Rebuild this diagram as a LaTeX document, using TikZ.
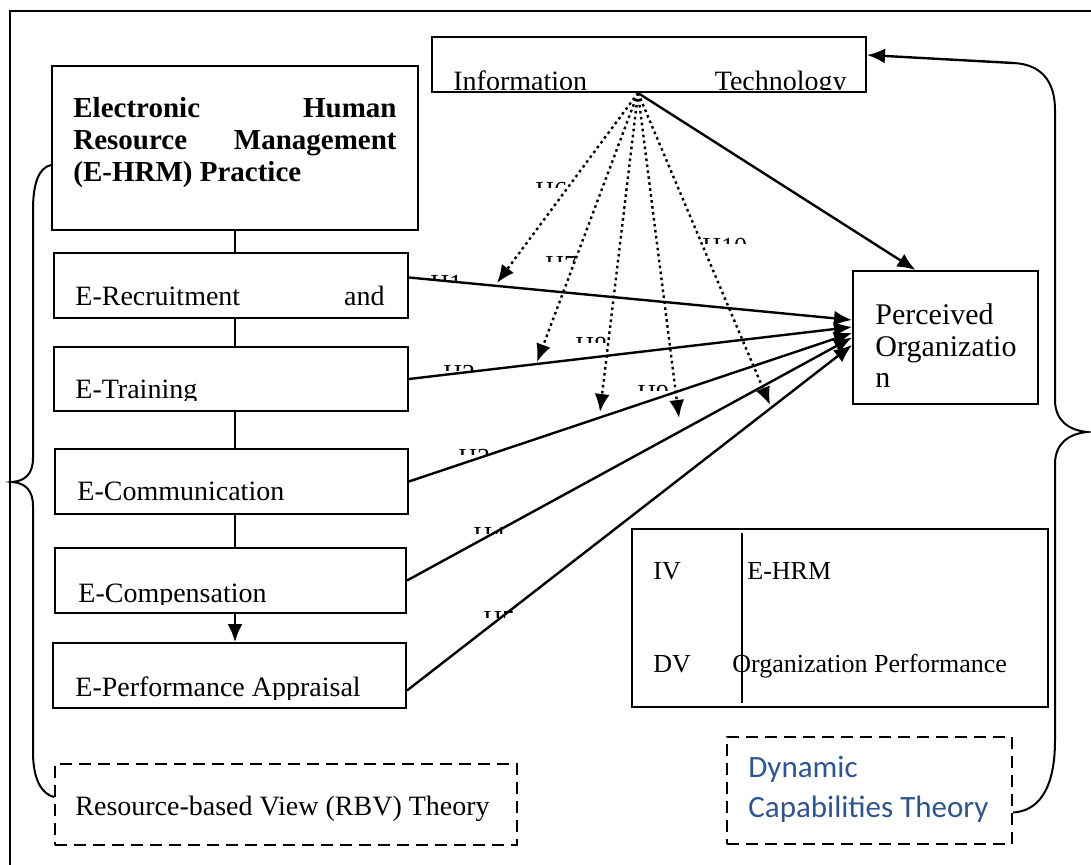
\documentclass[tikz,border=0pt]{standalone}
\usepackage{fontspec}
\setmainfont{Liberation Serif}
\newfontfamily\dctfont{Carlito}
\usetikzlibrary{arrows.meta}

\definecolor{dctblue}{RGB}{47,85,140}

% text cut off by the frame it sits in
\newcommand{\cuttext}[4]{\begin{scope}\clip #1 rectangle #2; \node[#3] #4;\end{scope}}
% hypothesis label, only its top shows
\newcommand{\hyplabel}[4]{\begin{scope}\clip (#2,#3-2) rectangle ++(52,8); \node[hyp, anchor=north west] (#1) at (#2,#3) {#4};\end{scope}}

\begin{document}
\begin{tikzpicture}[x=0.5pt, y=-0.5pt,
    box/.style={rectangle, draw, line width=1pt, inner sep=0pt},
    dashbox/.style={box, dash pattern=on 6pt off 3.5pt},
    txt/.style={inner sep=0pt, font=\fontsize{14}{16}\selectfont},
    small/.style={inner sep=0pt, font=\fontsize{13}{15}\selectfont},
    hyp/.style={inner sep=0pt, font=\fontsize{13}{15}\selectfont},
    head/.style={inner sep=0pt, font=\bfseries\fontsize{14.5}{16}\selectfont},
    link/.style={line width=1pt},
    arrow/.style={-{Latex[length=9pt,width=7.5pt]}, line width=1.2pt},
    dotarrow/.style={arrow, dash pattern=on 1.3pt off 1.7pt}
]
    \useasboundingbox (0,0) rectangle (1091,865);

    % outer frame
    \draw[link] (10,865) -- (10,11) -- (1091,11);

    % E-HRM practices
    \node[box, minimum width=183pt, minimum height=82pt] (ehrm) at (235,148) {};
    \node[box, minimum width=177pt, minimum height=32.5pt] (recruit) at (231,285.5) {};
    \node[box, minimum width=177pt, minimum height=32pt] (training) at (231,379) {};
    \node[box, minimum width=176.5pt, minimum height=32.5pt] (comm) at (231.5,481.5) {};
    \node[box, minimum width=175.5pt, minimum height=32.5pt] (comp) at (230.5,580.5) {};
    \node[box, minimum width=176.5pt, minimum height=32.5pt] (appraisal) at (229.5,675.5) {};

    % moderator, outcome and legend
    \node[box, minimum width=217pt, minimum height=27.5pt] (it) at (649,64.5) {};
    \node[box, minimum width=92.5pt, minimum height=66.5pt] (po) at (945.5,337.5) {};
    \node[box, minimum width=208pt, minimum height=89pt] (legend) at (840,618) {};

    % theories
    \node[dashbox, minimum width=231pt, minimum height=40.5pt] (rbv) at (286,804.5) {};
    \node[dashbox, minimum width=142.5pt, minimum height=53.5pt] (dct) at (869.5,790.5) {};

    % texts
    \node[head, anchor=base west] (head1) at (73,118) {Electronic};
    \node[head, anchor=base east] (head2) at (397,118) {Human};
    \node[head, anchor=base west] (head3) at (73,150) {Resource};
    \node[head, anchor=base east] (head4) at (397,150) {Management};
    \node[head, anchor=base west] (head5) at (73,182) {(E-HRM) Practice};

    \cuttext{(54,253)}{(408,309)}{txt, anchor=base west}{(recruittxt) at (75,306) {E-Recruitment}};
    \cuttext{(54,253)}{(408,309)}{txt, anchor=base east}{(andtxt) at (385,306) {and}};
    \cuttext{(54,347)}{(408,401)}{txt, anchor=base west}{(trainingtxt) at (75,399) {E-Training}};
    \cuttext{(55,449)}{(408,504)}{txt, anchor=base west}{(commtxt) at (77,501) {E-Communication}};
    \cuttext{(55,548)}{(406,604)}{txt, anchor=base west}{(comptxt) at (78,602) {E-Compensation}};
    \cuttext{(53,643)}{(406,699)}{txt, anchor=base west}{(appraisaltxt) at (75,696) {E-Performance Appraisal}};
    \cuttext{(432,37)}{(866,90)}{txt, anchor=base west}{(ittxt1) at (453,91) {Information}};
    \cuttext{(432,37)}{(866,90)}{txt, anchor=base east}{(ittxt2) at (847,91) {Technology}};

    \node[txt, font=\fontsize{15}{16}\selectfont, anchor=base west] (potxt1) at (875,325) {Perceived};
    \node[txt, font=\fontsize{15}{16}\selectfont, anchor=base west] (potxt2) at (875,357) {Organizatio};
    \node[txt, font=\fontsize{15}{16}\selectfont, anchor=base west] (potxt3) at (875,388) {n};

    \draw[link] ([xshift=55.5pt,yshift=-2.5pt]legend.north west) -- ([xshift=55.5pt,yshift=2.5pt]legend.south west);
    \node[small, anchor=base west] (iv) at (653,579) {IV};
    \node[small, anchor=base west] (ivname) at (747,579) {E-HRM};
    \node[small, anchor=base west] (dv) at (653,672) {DV};
    \node[small, anchor=base west] (dvname) at (732,672) {Organization Performance};

    \node[txt, anchor=base west] (rbvtxt) at (75,815) {Resource-based View (RBV) Theory};
    \node[inner sep=0pt, font=\dctfont\fontsize{15.5}{16}\selectfont, text=dctblue, anchor=base west] (dcttxt1) at (748,777) {Dynamic};
    \node[inner sep=0pt, font=\dctfont\fontsize{15.5}{16}\selectfont, text=dctblue, anchor=base west] (dcttxt2) at (748,817) {Capabilities Theory};

    % chain of practices
    \draw[link] (ehrm.south) -- (ehrm.south |- recruit.north);
    \draw[link] (ehrm.south |- recruit.south) -- (ehrm.south |- training.north);
    \draw[link] (ehrm.south |- training.south) -- (ehrm.south |- comm.north);
    \draw[link] (ehrm.south |- comm.south) -- (ehrm.south |- comp.north);
    \draw[arrow] (ehrm.south |- comp.south) -- (ehrm.south |- appraisal.north);

    % direct effects
    \draw[arrow] ([yshift=4pt]recruit.east) -- ([yshift=8.75pt]po.west);
    \draw[arrow] (training.east) -- ([yshift=5.25pt]po.west);
    \draw[arrow] (comm.east) -- ([yshift=2.25pt]po.west);
    \draw[arrow] (comp.east) -- ([yshift=0pt]po.west);
    \draw[arrow] ([yshift=-7.5pt]appraisal.east) -- ([yshift=-3.75pt]po.west);

    % moderating effects
    \coordinate (itfoot) at ([xshift=-5.5pt]it.south);
    \coordinate (m1) at (497,283);
    \coordinate (m2) at (537,362);
    \coordinate (m3) at (600,412);
    \coordinate (m4) at (679,418);
    \coordinate (m5) at (770,405);
    \foreach \m in {m1,m2,m3,m4,m5}
        \draw[dotarrow] (itfoot) -- (\m);
    \draw[arrow] (itfoot) -- ([xshift=-15pt]po.north);

    % hypotheses
    \hyplabel{h6}{535}{182}{H6}
    \hyplabel{h10}{702}{238}{H10}
    \hyplabel{h7}{545}{256}{H7}
    \hyplabel{h1}{430}{275}{H1}
    \hyplabel{h8}{575}{337}{H8}
    \hyplabel{h2}{443}{365}{H2}
    \hyplabel{h9}{637}{385}{H9}
    \hyplabel{h3}{458}{449}{H3}
    \hyplabel{h4}{473}{527}{H4}
    \hyplabel{h5}{483}{611}{H5}

    % theory braces
    \draw[link] ([yshift=-8.5pt]ehrm.west) .. controls (38,168) and (33,185) .. (33,210) -- (33,458)
        .. controls (33,474) and (25,481) .. (12,482) .. controls (25,483) and (33,490) .. (33,506)
        -- (33,752) .. controls (33,780) and (42,794) .. ([yshift=3.75pt]rbv.west);
    \coordinate (rtop) at (1013,63);
    \draw[arrow] (rtop) -- ([yshift=4.75pt]it.east);
    \draw[link] (rtop) .. controls (1040,64) and (1055,80) .. (1055,110) -- (1055,400)
        .. controls (1055,420) and (1068,430) .. (1087,432) .. controls (1068,434) and (1055,444) .. (1055,464)
        -- (1055,740) .. controls (1055,790) and (1038,811) .. ([yshift=-11pt]dct.east);
\end{tikzpicture}
\end{document}
